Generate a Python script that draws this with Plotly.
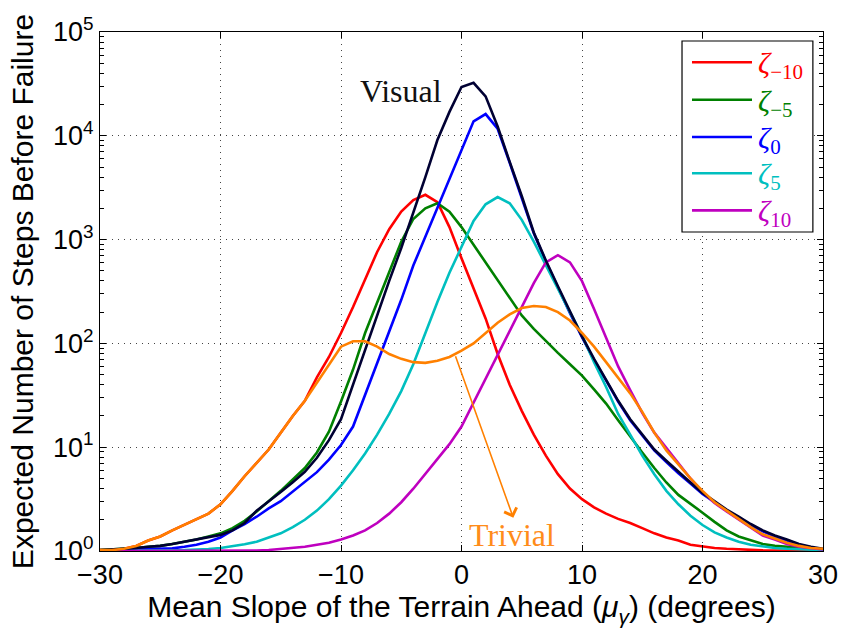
import plotly.graph_objects as go

# Mean terrain slope ahead (degrees)
slope = list(range(-30, 31))

# Expected number of steps before failure for each controller
zeta_m10 = [1.02, 1.02, 1.05, 1.12, 1.26, 1.38, 1.58, 1.78, 2.0, 2.29, 2.82, 3.8, 5.25, 7.1,
            9.5, 13.8, 20, 28, 47, 74, 126, 224, 417, 760, 1260, 1860, 2400, 2700, 2290, 1320,
            660, 339, 174, 79, 40, 22.4, 13.2, 8.3, 5.5, 4.0, 3.16, 2.63, 2.29, 2.04, 1.86,
            1.66, 1.48, 1.35, 1.26, 1.15, 1.10, 1.07, 1.05, 1.035, 1.02, 1.015, 1.01, 1.01,
            1.005, 1.005, 1.0]
zeta_m5 = [1.02, 1.035, 1.05, 1.07, 1.10, 1.12, 1.17, 1.23, 1.29, 1.38, 1.48, 1.66, 1.95, 2.40,
           3.02, 3.80, 4.90, 6.3, 8.9, 14.1, 27.5, 56, 126, 251, 500, 955, 1580, 2000, 2240,
           1860, 1320, 890, 600, 400, 270, 186, 138, 105, 81, 63, 49, 36, 26.3, 18.2, 12.6,
           8.9, 6.3, 4.57, 3.47, 2.82, 2.34, 1.91, 1.58, 1.38, 1.26, 1.17, 1.12, 1.10, 1.07,
           1.05, 1.035]
zeta_0 = [1.01, 1.02, 1.02, 1.03, 1.04, 1.05, 1.06, 1.10, 1.15, 1.23, 1.35, 1.58, 1.82, 2.14,
          2.57, 3.02, 3.72, 4.57, 5.75, 7.6, 10.5, 15.8, 31.6, 63, 126, 263, 562, 1070, 2000,
          3800, 7240, 13800, 16200, 11700, 5500, 2570, 1150, 617, 347, 195, 115, 69, 44, 27.5,
          18.2, 12.9, 9.3, 7.2, 5.6, 4.47, 3.55, 2.95, 2.45, 2.09, 1.78, 1.55, 1.38, 1.26,
          1.15, 1.08, 1.035]
zeta_5 = [1.0, 1.0, 1.005, 1.005, 1.007, 1.01, 1.015, 1.02, 1.025, 1.045, 1.07, 1.11, 1.16,
          1.23, 1.35, 1.48, 1.70, 2.0, 2.45, 3.16, 4.27, 6.0, 8.7, 13.2, 20.9, 34.7, 63, 126,
          251, 479, 851, 1510, 2190, 2570, 2240, 1550, 955, 562, 331, 200, 120, 66, 38, 20.9,
          13.2, 8.3, 5.5, 3.8, 2.82, 2.19, 1.78, 1.51, 1.35, 1.23, 1.15, 1.10, 1.07, 1.05,
          1.035, 1.025, 1.02]
zeta_10 = [1.0, 1.0, 1.0, 1.0, 1.0, 1.0, 1.0, 1.002, 1.003, 1.005, 1.005, 1.007, 1.01, 1.012,
           1.023, 1.047, 1.07, 1.10, 1.15, 1.20, 1.29, 1.41, 1.58, 1.86, 2.29, 2.95, 3.98, 5.5,
           7.6, 10.7, 15.8, 26.9, 45.7, 79, 135, 224, 380, 603, 708, 603, 398, 214, 112, 60,
           35.5, 21.4, 13.8, 9.8, 6.9, 5.0, 3.7, 2.9, 2.4, 2.0, 1.66, 1.41, 1.29, 1.17, 1.10,
           1.06, 1.035]
visual = [1.02, 1.035, 1.05, 1.07, 1.10, 1.12, 1.17, 1.23, 1.29, 1.35, 1.43, 1.58, 1.86, 2.45,
          3.0, 3.7, 4.6, 5.8, 7.9, 11.7, 18.6, 40, 89, 190, 400, 830, 1780, 4000, 9100, 17000,
          29500, 32400, 24000, 12300, 5600, 2630, 1170, 630, 355, 200, 117, 71, 45, 28, 18.6,
          13.2, 9.5, 7.4, 5.75, 4.57, 3.63, 3.02, 2.51, 2.14, 1.82, 1.58, 1.41, 1.29, 1.17,
          1.10, 1.05]
trivial = [1.02, 1.02, 1.05, 1.12, 1.26, 1.38, 1.58, 1.78, 2.0, 2.29, 2.82, 3.8, 5.25, 7.1,
           9.5, 13.8, 20, 28, 42, 63, 93, 105, 105, 93, 79, 71, 66, 65, 68, 74, 85, 100, 126,
           158, 190, 219, 229, 224, 200, 166, 126, 93, 66, 47, 33, 21.9, 13.8, 9.3, 6.8, 5.0,
           3.8, 2.95, 2.45, 2.04, 1.70, 1.45, 1.32, 1.20, 1.12, 1.07, 1.05]

# Log-axis tick values and labels
y_tickvals = [1, 10, 100, 1000, 10000, 100000]
y_ticktext = [f"10<sup>{k}</sup>" for k in range(6)]
x_tickvals = [-30, -20, -10, 0, 10, 20, 30]

zeta_series = [
    ("\u221210", zeta_m10, "#ff0000"),
    ("\u22125", zeta_m5, "#008000"),
    ("0", zeta_0, "#0000ff"),
    ("5", zeta_5, "#00bfbf"),
    ("10", zeta_10, "#bf00bf"),
]

serif = "Liberation Serif, DejaVu Serif, serif"
sans = "Liberation Sans, Arial, sans-serif"

fig = go.Figure()

for sub, vals, col in zeta_series:
    fig.add_trace(go.Scatter(
        x=slope, y=vals, mode="lines",
        line=dict(color=col, width=2.6),
        name=f"\u03b6{sub}", showlegend=False,
    ))

fig.add_trace(go.Scatter(x=slope, y=visual, mode="lines", name="Visual",
                         line=dict(color="#000033", width=2.6), showlegend=False))
fig.add_trace(go.Scatter(x=slope, y=trivial, mode="lines", name="Trivial",
                         line=dict(color="#ff8000", width=2.6), showlegend=False))

fig.add_annotation(x=-5.0, y=4.43, xref="x", yref="y", text="Visual", showarrow=False,
                   font=dict(family=serif, size=32, color="#111111"))
fig.add_annotation(x=4.2, y=0.15, xref="x", yref="y", text="Trivial", showarrow=False,
                   font=dict(family=serif, size=32, color="#ff8c1a"))
# Arrow from the trivial curve down to its label
fig.add_annotation(x=4.3, y=0.32, ax=-0.54, ay=1.89, xref="x", yref="y",
                   axref="x", ayref="y", text="", showarrow=True,
                   arrowhead=4, arrowsize=1.6, arrowwidth=1.6, arrowcolor="#ff8000")

# Legend box drawn in paper coordinates
leg_x0, leg_x1, leg_y0, leg_y1 = 0.805, 0.986, 0.6146, 0.9827
fig.add_shape(type="rect", xref="paper", yref="paper",
              x0=leg_x0, x1=leg_x1, y0=leg_y0, y1=leg_y1,
              line=dict(color="black", width=1.2), fillcolor="white", layer="above")
leg_rows = [0.9416, 0.8696, 0.7977, 0.7277, 0.6564]
for (sub, _, col), ly in zip(zeta_series, leg_rows):
    fig.add_shape(type="line", xref="paper", yref="paper",
                  x0=0.8188, x1=0.9018, y0=ly, y1=ly,
                  line=dict(color=col, width=2.6), layer="above")
    fig.add_annotation(xref="paper", yref="paper", x=0.9075, y=ly - 0.006,
                       xanchor="left", yanchor="middle", showarrow=False,
                       text=f"<i>\u03b6</i><sub>{sub}</sub>",
                       font=dict(family=serif, size=30, color=col))

axis_font = dict(family=sans, size=27, color="black")
title_font = dict(family=sans, size=30, color="black")

fig.update_xaxes(
    range=[-30, 30], tickvals=x_tickvals, automargin=False,
    showline=True, linecolor="black", linewidth=1, mirror="ticks",
    ticks="inside", ticklen=6, tickcolor="black",
    showgrid=True, gridcolor="#444444", griddash="1px,5px", gridwidth=1,
    zeroline=False, tickfont=axis_font,
    title=dict(text="Mean Slope of the Terrain Ahead (<i>\u03bc</i><sub><i>\u03b3</i></sub>) (degrees)",
               font=title_font, standoff=3),
)
fig.update_yaxes(
    type="log", range=[0, 5], tickvals=y_tickvals, ticktext=y_ticktext, automargin=False,
    showline=True, linecolor="black", linewidth=1, mirror="ticks",
    ticks="inside", ticklen=6, tickcolor="black",
    minor=dict(ticks="inside", ticklen=4, tickcolor="black", showgrid=False, dtick="D1"),
    showgrid=True, gridcolor="#444444", griddash="1px,5px", gridwidth=1,
    zeroline=False, tickfont=axis_font,
    title=dict(text="Expected Number of Steps Before Failure", font=title_font, standoff=10),
)

fig.update_layout(
    width=843, height=631,
    margin=dict(l=100, r=20, t=32, b=80),
    paper_bgcolor="white", plot_bgcolor="white",
    showlegend=False,
)

fig.write_html("out.html")
